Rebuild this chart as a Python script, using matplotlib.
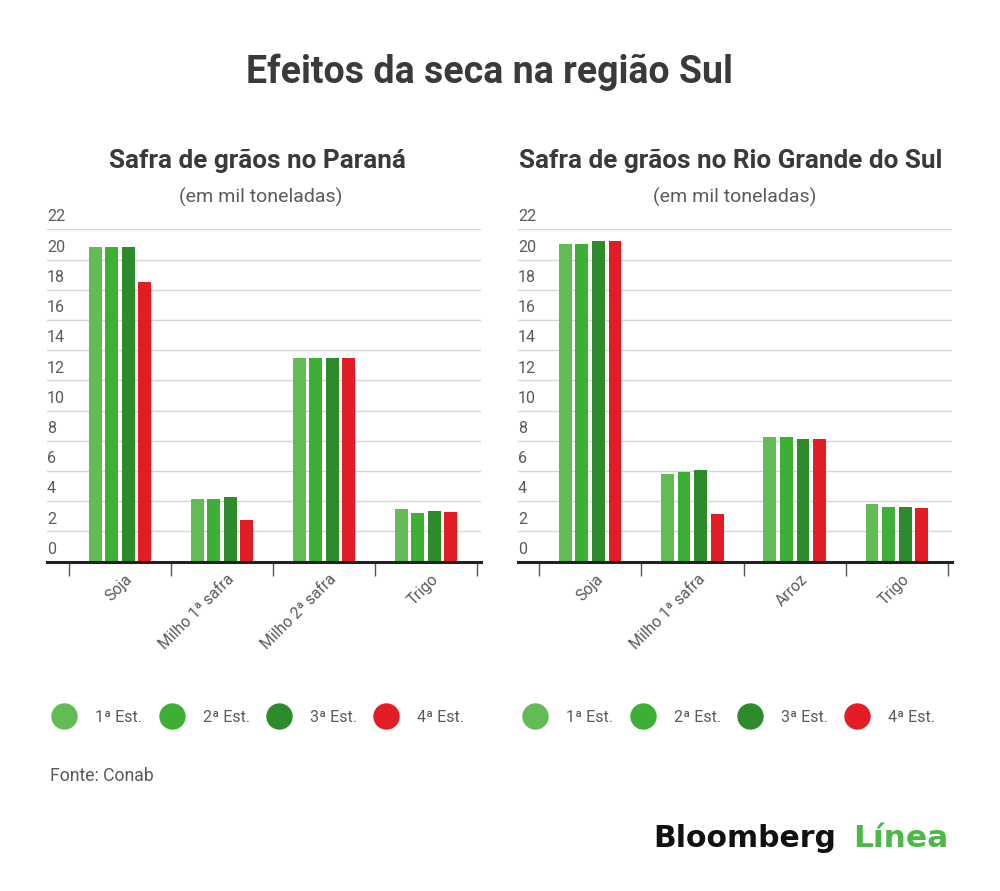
import matplotlib
matplotlib.use("Agg")
import matplotlib.pyplot as plt
from matplotlib.lines import Line2D
import matplotlib.transforms as mtransforms
import numpy as np

plt.rcParams['font.family'] = ['Roboto', 'DejaVu Sans']

# data (mil toneladas)
estimates = ['1ª Est.', '2ª Est.', '3ª Est.', '4ª Est.']
colors = ['#62bb55', '#3caf34', '#2e8b2b', '#e31d25']

pr_crops = ['Soja', 'Milho 1ª safra', 'Milho 2ª safra', 'Trigo']
pr_values = [
    [20.8, 4.15, 13.45, 3.5],   # 1a est
    [20.8, 4.15, 13.45, 3.25],  # 2a est
    [20.8, 4.25, 13.45, 3.35],  # 3a est
    [18.5, 2.75, 13.45, 3.3],   # 4a est
]

rs_crops = ['Soja', 'Milho 1ª safra', 'Arroz', 'Trigo']
rs_values = [
    [21.05, 5.8, 8.25, 3.85],
    [21.05, 5.95, 8.25, 3.6],
    [21.25, 6.05, 8.15, 3.6],
    [21.25, 3.15, 8.15, 3.55],
]

yticks = list(range(0, 23, 2))

W, H = 1000, 891
fig = plt.figure(figsize=(W / 100, H / 100), dpi=100)
fig.patch.set_facecolor('white')

txt_dark = '#3a3a3a'
txt_gray = '#5a5a5a'


def px(x, y):
    return x / W, 1 - y / H


def panel(left_px, right_px, cat_left_px, cat_w_px, crops, values, title, cx):
    x0, _ = px(left_px, 0)
    _, y0 = px(0, 561.7)
    _, y1 = px(0, 229.3)
    ax = fig.add_axes([x0, y0, (right_px - left_px) / W, y1 - y0])
    xmin = (left_px - cat_left_px) / cat_w_px - 0.5
    xmax = (right_px - cat_left_px) / cat_w_px - 0.5
    ax.set_xlim(xmin, xmax)
    ax.set_ylim(0, 22)

    for v in yticks[1:]:
        ax.axhline(v, color='#d6d6d6', lw=1, zorder=0)
    ax.axhline(0, color='#222222', lw=2.2, zorder=3, clip_on=False)
    for v in yticks:
        ax.annotate(str(v), (0, v), xycoords=('axes fraction', 'data'),
                    xytext=(0, 3.5), textcoords='offset points',
                    ha='left', va='bottom', fontsize=11.5, color=txt_gray)

    x = np.arange(len(crops))
    bw = 0.125
    step = 0.162
    for i, (vals, col) in enumerate(zip(values, colors)):
        ax.bar(x + (i - 1.5) * step, vals, width=bw, color=col, zorder=2)

    for s in ax.spines.values():
        s.set_visible(False)
    ax.set_yticks([])
    ax.set_xticks(np.arange(len(crops) + 1) - 0.5)
    ax.set_xticklabels([])
    ax.tick_params(axis='x', which='major', length=10, width=1, color='#555555')
    ax.set_xticks(x, minor=True)
    ax.set_xticklabels(crops, minor=True, rotation=45, ha='right',
                       rotation_mode='anchor', fontsize=11.3, color=txt_gray)
    ax.tick_params(axis='x', which='minor', length=0, pad=7)
    shift = mtransforms.ScaledTranslation(5 / 100, 0, fig.dpi_scale_trans)
    for lab in ax.get_xticklabels(minor=True):
        lab.set_transform(lab.get_transform() + shift)

    fig.text(cx / W, 1 - 168.3 / H, title, ha='center', va='baseline',
             fontsize=18.8, fontweight='bold', color=txt_dark)
    fig.text((cx + 4) / W, 1 - 203 / H, '(em mil toneladas)', ha='center',
             va='baseline', fontsize=14, color=txt_gray)

    handles = [Line2D([], [], marker='o', ls='none', markersize=18,
                      markerfacecolor=c, markeredgecolor=c) for c in colors]
    fig.legend(handles, estimates, loc='center left',
               bbox_to_anchor=px(left_px + 5, 717), ncol=4, frameon=False,
               handlelength=1.56, handletextpad=1.16, columnspacing=1.06,
               borderpad=0, borderaxespad=0, fontsize=11.5, labelcolor=txt_gray)
    return ax


panel(47, 481, 69, 102, pr_crops, pr_values, 'Safra de grãos no Paraná', 257)
panel(518, 952, 539, 102.25, rs_crops, rs_values,
      'Safra de grãos no Rio Grande do Sul', 730.5)

fig.text(0.49, 1 - 83 / H, 'Efeitos da seca na região Sul', ha='center',
         va='baseline', fontsize=27, fontweight='bold', color=txt_dark)

fig.text(50 / W, 1 - 781 / H, 'Fonte: Conab', ha='left', va='baseline',
         fontsize=12.7, color=txt_gray)

fig.text(653 / W, 1 - 847 / H, 'Bloomberg', ha='left', va='baseline',
         fontsize=21.5, fontweight='bold', color='#111111',
         family='DejaVu Sans')
fig.text(853 / W, 1 - 847 / H, 'Línea', ha='left', va='baseline',
         fontsize=22.5, fontweight='bold', color='#4cb848',
         family='DejaVu Sans')

fig.savefig('out.png', dpi=100, facecolor='white')
